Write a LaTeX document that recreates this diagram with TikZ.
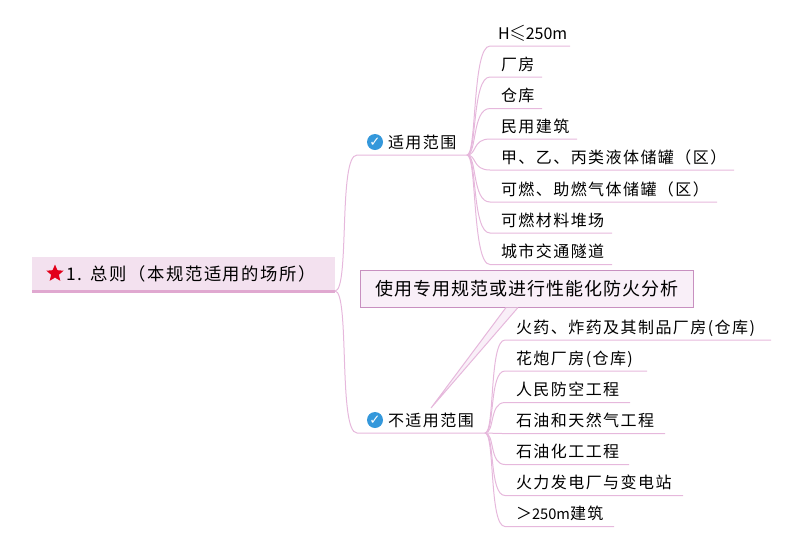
\documentclass[tikz,border=0pt]{standalone}
\usepackage{amssymb}
\usepackage{graphicx}
\usepackage{fontspec}
\usepackage{tikz}
\usepackage{xcolor}
\usetikzlibrary{positioning,shapes.geometric}
\setmainfont{Noto Sans CJK SC}
\newfontfamily\mapfont[LetterSpace=9]{Noto Sans CJK SC}
\newfontfamily\notefont[LetterSpace=5.5]{Noto Sans CJK SC}
\newfontfamily\tickfont{DejaVu Sans}
\definecolor{softpink}{HTML}{F3E1EF}
\definecolor{notepink}{HTML}{F9EFF8}
\definecolor{linepink}{HTML}{E6B8DC}
\definecolor{barpink}{HTML}{E0A8D0}
\definecolor{noteedge}{HTML}{C890C0}
\definecolor{starred}{HTML}{E2001A}
\definecolor{tickblue}{HTML}{3498DB}

\tikzset{
  conn/.style={draw=linepink, line width=0.75pt},
  mapnode/.style={anchor=south west, inner xsep=0pt, inner ysep=2pt, outer sep=0pt, text depth=3pt, align=left, font=\mapfont\fontsize{12}{14}\selectfont},
  leaf/.style={mapnode, text width=#1, execute at begin node=\hspace*{8.25pt}},
  branch/.style={mapnode, text width=82.5pt, execute at begin node=\hspace*{23.25pt}},
  tick/.style={circle, fill=tickblue, inner sep=0pt, minimum size=12pt, text=white, font=\tickfont\bfseries\fontsize{10}{10}\selectfont}
}

\begin{document}
\begin{tikzpicture}[x=0.75pt, y=-0.75pt]
  \useasboundingbox (0,0) rectangle (800,547);

  % root
  \node[anchor=north west, fill=softpink, minimum width=227.25pt, minimum height=25.5pt, inner xsep=0pt, outer sep=0pt, text width=227.25pt, align=left, font=\mapfont\fontsize{13}{15}\selectfont, execute at begin node=\hspace*{25.5pt}] (root) at (32,257) {1. 总则（本规范适用的场所）};
  \draw[barpink, line width=2.25pt] (root.south west) -- (root.south east);
  \node[star, star points=5, star point ratio=2.2, fill=starred, inner sep=0pt, minimum size=13.5pt] (rootstar) at (55,273.5) {};

  % branches
  \node[branch] (fits) at (357,155) {适用范围};
  \node[branch, text width=96pt] (nofits) at (357,433) {不适用范围};
  \node[tick] (fitstick) at (375,142) {✓};
  \node[tick] (nofitstick) at (375,420) {✓};
  \draw[conn] (root.south east) .. controls +(15,0) and +(-19,0) .. (fits.south west) -- (fits.south east);
  \draw[conn] (root.south east) .. controls +(15,0) and +(-19,0) .. (nofits.south west) -- (nofits.south east);

  % note with its wedge
  \node[anchor=north west, draw=noteedge, fill=notepink, line width=0.75pt, minimum width=249.75pt, minimum height=27.75pt, inner sep=0pt, font=\notefont\fontsize{13.5}{16}\selectfont] (note) at (360,270) {使用专用规范或进行性能化防火分析};
  \coordinate (noteleft) at (506,307.5);
  \coordinate (noteright) at (518,307.5);
  \coordinate (notetip) at (431,408);
  \draw[linepink, fill=notepink, line width=0.75pt] (noteleft) -- (notetip) -- (noteright);

  % leaves of the first branch
  \node[leaf=60pt] (fa) at (490,46) {\hspace*{-2.25pt}H\raisebox{1pt}{\scalebox{1.3}{$\leqslant$}}{\rmfamily 250m}};
  \node[leaf=39pt] (fb) at (490,77) {厂房};
  \node[leaf=39pt] (fc) at (490,108.5) {仓库};
  \node[leaf=65.25pt] (fd) at (490,139) {民用建筑};
  \node[leaf=183pt] (fe) at (490,170) {甲、乙、丙类液体储罐（区）};
  \node[leaf=170.25pt] (ff) at (490,202) {可燃、助燃气体储罐（区）};
  \node[leaf=91.5pt] (fg) at (490,233) {可燃材料堆场};
  \node[leaf=91.5pt] (fh) at (490,264.5) {城市交通隧道};
  \draw[conn] (fits.south east) .. controls +(10,0) and +(-18,0) .. (fa.south west) -- (fa.south east);
  \draw[conn] (fits.south east) .. controls +(10,0) and +(-18,0) .. (fb.south west) -- (fb.south east);
  \draw[conn] (fits.south east) .. controls +(10,0) and +(-18,0) .. (fc.south west) -- (fc.south east);
  \draw[conn] (fits.south east) .. controls +(10,0) and +(-18,0) .. (fd.south west) -- (fd.south east);
  \draw[conn] (fits.south east) .. controls +(10,0) and +(-18,0) .. (fe.south west) -- (fe.south east);
  \draw[conn] (fits.south east) .. controls +(10,0) and +(-18,0) .. (ff.south west) -- (ff.south east);
  \draw[conn] (fits.south east) .. controls +(10,0) and +(-18,0) .. (fg.south west) -- (fg.south east);
  \draw[conn] (fits.south east) .. controls +(10,0) and +(-18,0) .. (fh.south west) -- (fh.south east);

  % leaves of the second branch
  \node[leaf=199.5pt] (na) at (505,340) {火药、炸药及其制品厂房(仓库)};
  \node[leaf=106.5pt] (nb) at (505,371) {花炮厂房(仓库)};
  \node[leaf=93.75pt] (nc) at (505,402.5) {人民防空工程};
  \node[leaf=120pt] (nd) at (505,433.5) {石油和天然气工程};
  \node[leaf=93pt] (ne) at (505,464.5) {石油化工工程};
  \node[leaf=133.5pt] (nf) at (505,495.5) {火力发电厂与变电站};
  \node[leaf=81.75pt] (ng) at (505,526.5) {＞{\rmfamily\fontsize{11}{14}\selectfont 250m}建筑};
  \draw[conn] (nofits.south east) .. controls +(10,0) and +(-16,0) .. (na.south west) -- (na.south east);
  \draw[conn] (nofits.south east) .. controls +(10,0) and +(-16,0) .. (nb.south west) -- (nb.south east);
  \draw[conn] (nofits.south east) .. controls +(10,0) and +(-16,0) .. (nc.south west) -- (nc.south east);
  \draw[conn] (nofits.south east) .. controls +(10,0) and +(-16,0) .. (nd.south west) -- (nd.south east);
  \draw[conn] (nofits.south east) .. controls +(10,0) and +(-16,0) .. (ne.south west) -- (ne.south east);
  \draw[conn] (nofits.south east) .. controls +(10,0) and +(-16,0) .. (nf.south west) -- (nf.south east);
  \draw[conn] (nofits.south east) .. controls +(10,0) and +(-16,0) .. (ng.south west) -- (ng.south east);
\end{tikzpicture}
\end{document}
